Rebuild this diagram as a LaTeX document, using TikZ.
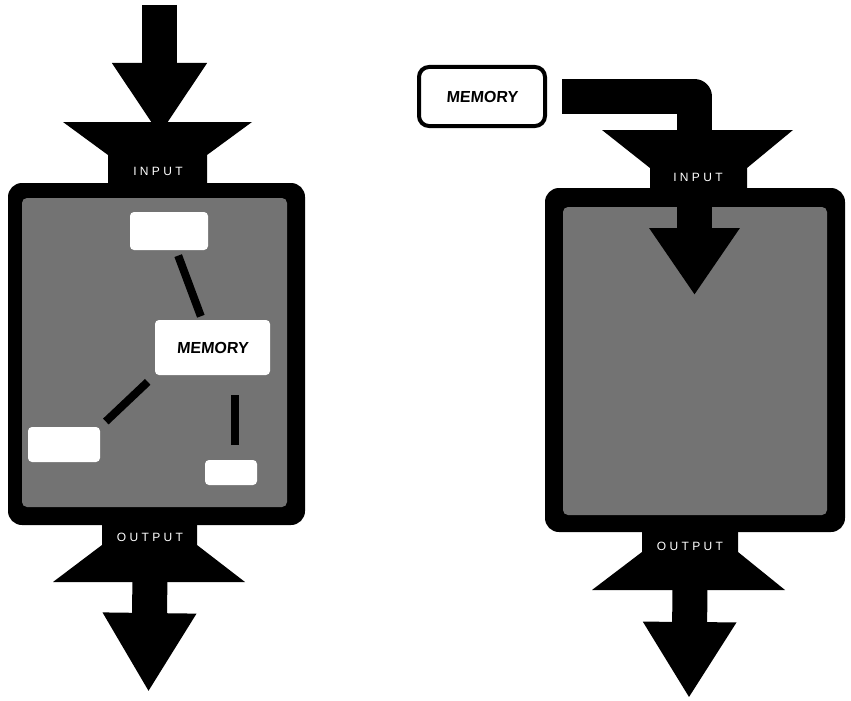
\documentclass[tikz,border=0pt]{standalone}
\usepackage{fontspec}
\setmainfont{Liberation Sans}
\newfontfamily\labfont[LetterSpace=28]{Liberation Sans}
\newfontfamily\memfont[FakeSlant=0.08]{Liberation Sans}
\usetikzlibrary{arrows.meta,calc}
\begin{document}
\begin{tikzpicture}[x=1pt,y=-1pt,
  frame/.style={fill=black, rounded corners=14pt, inner sep=0pt, outer sep=0pt},
  texture/.style={fill=black!55, rounded corners=5pt, inner sep=0pt, outer sep=0pt},
  funnel/.style={fill=black},
  shaft/.style={line width=35pt, black, line join=round},
  wbox/.style={fill=white, rounded corners=4pt, inner sep=0pt, outer sep=0pt},
  link/.style={line width=8pt, black},
  lab/.style={text=white, font=\labfont\fontsize{12}{12}\selectfont},
  memtxt/.style={font=\memfont\bfseries\fontsize{16}{16}\selectfont},
  membox/.style={fill=white, draw=black, line width=4pt, rounded corners=10pt, inner sep=0pt}]
\useasboundingbox (0,0) rectangle (851,701);

% ---------------- left figure ----------------
\coordinate (Lsrc) at (159.5,5);
\coordinate (Lfun) at (159.5,135);
\draw[shaft, -{Triangle[width=90pt,length=72pt]}] (Lsrc) -- (Lfun);

\node[frame, minimum width=297pt, minimum height=342pt] (Lbox) at (156.5,354) {};
\node[texture, minimum width=265pt, minimum height=309pt] (Ltex) at (154.5,352.5) {};

\fill[funnel] (63,122) -- (252,122) -- (207,155) -- (207,190) -- (108,190) -- (108,155) -- cycle;
\fill[funnel] (102,520) -- (197,520) -- (197,545) -- (245,582) -- (53,582) -- (102,545) -- cycle;

\coordinate (Lo1) at (150,575);
\coordinate (Lo2) at (148.5,692);
\draw[shaft, -{Triangle[width=88pt,length=79pt]}] (Lo1) -- (Lo2);

\node[wbox, minimum width=78pt, minimum height=38pt] (t1) at (169,231) {};
\node[wbox, minimum width=115pt, minimum height=55pt, memtxt] (mem) at (212.5,347.5) {MEMORY};
\node[wbox, minimum width=72pt, minimum height=35pt] (bl) at (64,444.5) {};
\node[wbox, minimum width=52pt, minimum height=25pt] (br) at (231,472.5) {};

\draw[link, shorten <=6pt, shorten >=4pt] (t1) -- (mem);
\draw[link, shorten <=10pt, shorten >=8pt] (mem.south west) -- (bl.north east);
\draw[link, shorten <=15pt, shorten >=20pt] ([xshift=4pt]br.north) -- ([xshift=4pt]br.north |- mem.south);

\node[lab] (Lin) at (158,171) {INPUT};
\node[lab] (Lout) at (150,537) {OUTPUT};

% ---------------- right figure ----------------
\node[frame, minimum width=300pt, minimum height=344pt] (Rbox) at (695,360) {};
\node[texture, minimum width=264pt, minimum height=308pt] (Rtex) at (695,361) {};

\fill[funnel] (602,130) -- (793,130) -- (747,168) -- (747,195) -- (650,195) -- (650,168) -- cycle;
\fill[funnel] (642,525) -- (738,525) -- (738,552) -- (785,590) -- (592,590) -- (642,552) -- cycle;

\node[membox, minimum width=126pt, minimum height=59pt, memtxt] (mem2) at (482,96.5) {MEMORY};
\coordinate (Rtip) at (694.5,295);
\draw[shaft, -{Triangle[width=86pt,length=67pt]}] ([xshift=15pt]mem2.east) -| (Rtip);

\coordinate (Ro1) at (690,582);
\coordinate (Ro2) at (689,698);
\draw[shaft, -{Triangle[width=88pt,length=76pt]}] (Ro1) -- (Ro2);

\node[lab] (Rin) at (698,177) {INPUT};
\node[lab] (Rout) at (690,546) {OUTPUT};
\end{tikzpicture}
\end{document}
